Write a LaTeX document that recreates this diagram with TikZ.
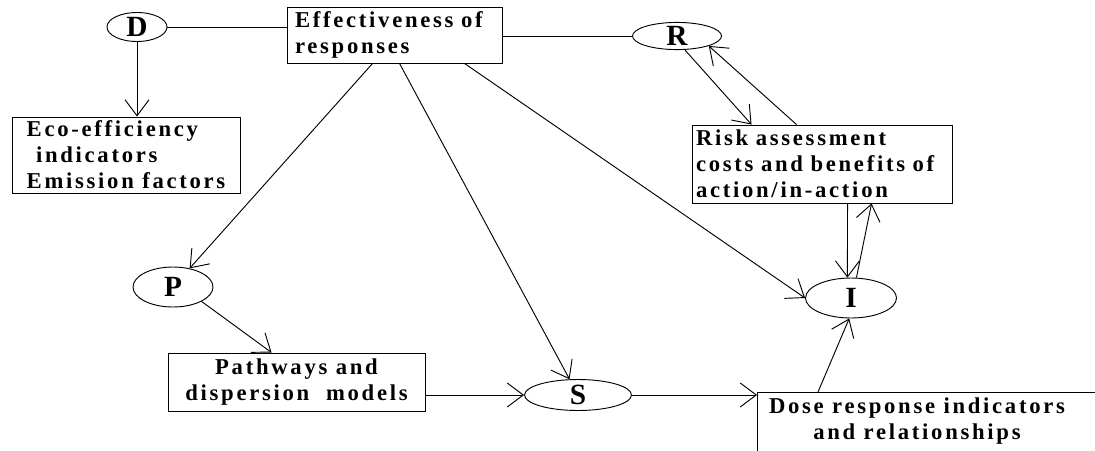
\documentclass[tikz,border=0pt]{standalone}
\usepackage{fontspec}
\setmainfont{Liberation Serif}[LetterSpace=12]
\newfontfamily\letterfont{Liberation Serif}
\usetikzlibrary{shapes.geometric,arrows.meta,calc,positioning}

\begin{document}
\begin{tikzpicture}[x=0.75pt,y=-0.75pt,line width=0.7pt,
  font=\bfseries\fontsize{17}{19.5}\selectfont,
  box/.style={draw,rectangle,inner sep=0pt},
  blob/.style={draw,ellipse,inner sep=0pt,font=\letterfont\bfseries\fontsize{22}{24}\selectfont},
  arr/.style={-{Straight Barb[length=12pt,width=18pt]}}]
\useasboundingbox (0,0) rectangle (1095,450);
\clip (0,0) rectangle (1095,450);

% drivers and responses
\node [blob,minimum width=45pt,minimum height=21.75pt] (d) at (137,27) {D};
\node [box,align=left,inner xsep=6pt,text width=149.25pt,minimum height=42pt] (eff) at (394.5,35) {Effectiveness of\\responses};
\node [blob,minimum width=66.75pt,minimum height=20.25pt] (r) at (677,36) {R};
\node [box,align=left,minimum width=171pt,minimum height=57pt] (eco) at (126,155) {Eco-efficiency\\\hspace*{7pt}indicators\\Emission factors};
\node [box,align=left,inner xsep=3pt,text width=189pt,minimum height=58.5pt] (risk) at (822,164) {Risk assessment\\costs and benefits of\\action/in-action};

% pressure, state, impact
\node [blob,minimum width=60pt,minimum height=30pt] (p) at (173,287) {P};
\node [box,align=center,minimum width=192.75pt,minimum height=43.5pt] (path) at (296.5,382) {Pathways and\\dispersion\ \ models};
\node [blob,minimum width=80.25pt,minimum height=23.25pt] (s) at (578,395) {S};
\node [blob,minimum width=68.25pt,minimum height=30pt] (i) at (851,298) {I};
\node [align=center,inner sep=0pt] (dose) at (917,421) {Dose response indicators\\and relationships};
\coordinate (dosecorner) at (757,392);
\draw (dosecorner) ++(0,80) -- (dosecorner) -- ++(360,0);

\draw (d.east) -- (d.east -| eff.west);
\draw [arr] (d.south) -- (d.south |- eco.north);
\draw (eff.east |- r.west) -- (r.west);
\draw [arr] ($(eff.south west)+(86,0)$) -- (p);
\draw [arr] ($(eff.south west)+(113,0)$) -- (s);
\draw [arr] ($(eff.south west)+(178,0)$) -- (i.west);
\draw [arr] ($(r.south)+(8,0)$) -- ($(risk.north west)+(60,0)$);
\draw [arr] ($(risk.north west)+(105,0)$) -- (r.south east);
\draw [arr] ($(risk.south west)+(156,0)$) -- (i.100);
\draw [arr] (i.75) -- ($(risk.south west)+(180,0)$);
\draw [arr] (p.south east) -- ($(path.north west)+(104,0)$);
\draw [arr] (path.east |- s.west) -- (s.west);
\draw [arr] (s.east) -- (s.east -| dosecorner);
\draw [arr] ($(dosecorner)+(61,0)$) -- (i.265);
\end{tikzpicture}
\end{document}
